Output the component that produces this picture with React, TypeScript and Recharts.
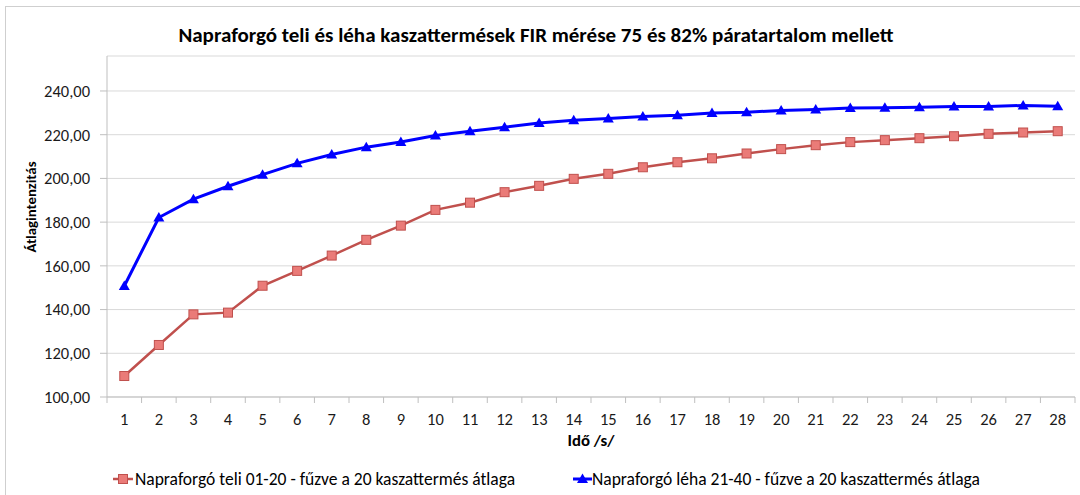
import { LineChart, Line, XAxis, YAxis, CartesianGrid } from 'recharts'

const FONT = 'Carlito, Lato, sans-serif'

// Idő /s/
const ido = [1, 2, 3, 4, 5, 6, 7, 8, 9, 10, 11, 12, 13, 14, 15, 16, 17, 18, 19, 20, 21, 22, 23, 24, 25, 26, 27, 28]

const teli = [
  109.6, 123.8, 137.8, 138.6, 150.9, 157.7, 164.7, 171.9, 178.4, 185.6, 188.9, 193.7, 196.6, 199.8,
  202.1, 205.1, 207.4, 209.2, 211.4, 213.4, 215.2, 216.6, 217.5, 218.4, 219.3, 220.4, 221.0, 221.6,
]

const leha = [
  150.8, 182.1, 190.5, 196.4, 201.7, 206.9, 210.9, 214.3, 216.7, 219.6, 221.6, 223.4, 225.4, 226.6,
  227.4, 228.3, 228.9, 229.9, 230.3, 231.1, 231.5, 232.2, 232.3, 232.5, 232.9, 232.9, 233.4, 233.0,
]

const yTicks = [100, 120, 140, 160, 180, 200, 220, 240]

const TITLE = 'Napraforgó teli és léha kaszattermések FIR mérése 75 és 82% páratartalom mellett'
const TELI_NAME = 'Napraforgó teli 01-20 - fűzve a 20 kaszattermés átlaga'
const LEHA_NAME = 'Napraforgó léha 21-40 - fűzve a 20 kaszattermés átlaga'

const data = ido.map((t, i) => ({ t, teli: teli[i], leha: leha[i] }))

const W = 1080
const H = 495
const PLOT_LEFT = 107
const PLOT_RIGHT = 5
const STEP = (W - PLOT_LEFT - PLOT_RIGHT) / ido.length
const TICK_FS = 16.5

const fmt = (v: number) => v.toFixed(2).replace('.', ',')

function XTick(props: any) {
  const { x, y, payload } = props
  const half = STEP / 2
  return (
    <g>
      <line x1={x - half} x2={x - half} y1={y} y2={y + 6} stroke="#bfbfbf" />
      {payload.value === ido[ido.length - 1] && (
        <line x1={x + half} x2={x + half} y1={y} y2={y + 6} stroke="#bfbfbf" />
      )}
      <text x={x} y={y + 28} textAnchor="middle" fontSize={TICK_FS} fill="#1a1a1a" fontFamily={FONT}>
        {payload.value}
      </text>
    </g>
  )
}

function SquareDot(props: any) {
  const { cx, cy } = props
  if (cx == null || cy == null) return null
  return (
    <rect x={cx - 4.5} y={cy - 4.5} width={9} height={9} fill="#ea7b78" stroke="#c0504d" strokeWidth={1} />
  )
}

function TriangleDot(props: any) {
  const { cx, cy } = props
  if (cx == null || cy == null) return null
  return <polygon points={`${cx},${cy - 5.5} ${cx + 5.5},${cy + 4} ${cx - 5.5},${cy + 4}`} fill="#0000ff" />
}

export default function App() {
  return (
    <div style={{ position: 'absolute', left: 0, top: 0, width: W, height: H, overflow: 'hidden', background: '#fff', fontFamily: FONT }}>
      <div style={{ position: 'absolute', left: 5, top: 6, width: W + 20, height: H + 20, border: '1px solid #cfcfcf' }} />
      <LineChart
        width={W}
        height={H}
        data={data}
        margin={{ top: 56, right: PLOT_RIGHT, bottom: 68, left: 0 }}
        style={{ position: 'absolute', left: 0, top: 0 }}
      >
        <CartesianGrid vertical={false} stroke="#d9d9d9" />
        <XAxis
          dataKey="t"
          type="number"
          domain={[0.5, 28.5]}
          ticks={ido}
          interval={0}
          height={30}
          tickSize={0}
          tickMargin={0}
          tickLine={false}
          axisLine={{ stroke: '#bfbfbf' }}
          tick={<XTick />}
        />
        <YAxis
          domain={[100, 256]}
          ticks={yTicks}
          interval={0}
          width={PLOT_LEFT}
          allowDataOverflow
          tickFormatter={fmt}
          tickSize={7}
          tickMargin={10}
          tickLine={{ stroke: '#bfbfbf' }}
          axisLine={{ stroke: '#bfbfbf' }}
          tick={{ fontSize: TICK_FS, fill: '#1a1a1a', fontFamily: FONT }}
        />
        <Line
          dataKey="teli"
          name={TELI_NAME}
          stroke="#c0504d"
          strokeWidth={2.5}
          dot={<SquareDot />}
          isAnimationActive={false}
        />
        <Line
          dataKey="leha"
          name={LEHA_NAME}
          stroke="#0000ff"
          strokeWidth={3}
          dot={<TriangleDot />}
          isAnimationActive={false}
        />
      </LineChart>
      <div style={{ position: 'absolute', left: 0, width: W - 8, top: 22, textAlign: 'center', fontSize: 21, fontWeight: 700, color: '#000', whiteSpace: 'nowrap' }}>
        {TITLE}
      </div>
      <div style={{ position: 'absolute', left: 31, top: 207, transform: 'translate(-50%, -50%) rotate(-90deg)', fontSize: 14.8, fontWeight: 700, whiteSpace: 'nowrap' }}>
        Átlagintenzitás
      </div>
      <div style={{ position: 'absolute', left: 591, top: 440, transform: 'translate(-50%, -50%)', fontSize: 16.8, fontWeight: 700, whiteSpace: 'nowrap' }}>
        Idő /s/
      </div>
      <div style={{ position: 'absolute', top: 468, left: 113, fontSize: 17.5, whiteSpace: 'nowrap', display: 'flex', alignItems: 'center' }}>
        <svg width={20} height={12}>
          <line x1={0} x2={20} y1={6} y2={6} stroke="#c0504d" strokeWidth={2.5} />
          <rect x={5.5} y={1.5} width={9} height={9} fill="#ea7b78" stroke="#c0504d" />
        </svg>
        <span style={{ marginLeft: 2 }}>{TELI_NAME}</span>
      </div>
      <div style={{ position: 'absolute', top: 468, left: 573, fontSize: 17.5, whiteSpace: 'nowrap', display: 'flex', alignItems: 'center' }}>
        <svg width={19} height={12}>
          <line x1={0} x2={19} y1={6} y2={6} stroke="#0000ff" strokeWidth={3} />
          <polygon points="9.5,0.5 15,10 4,10" fill="#0000ff" />
        </svg>
        <span style={{ marginLeft: 0 }}>{LEHA_NAME}</span>
      </div>
    </div>
  )
}
